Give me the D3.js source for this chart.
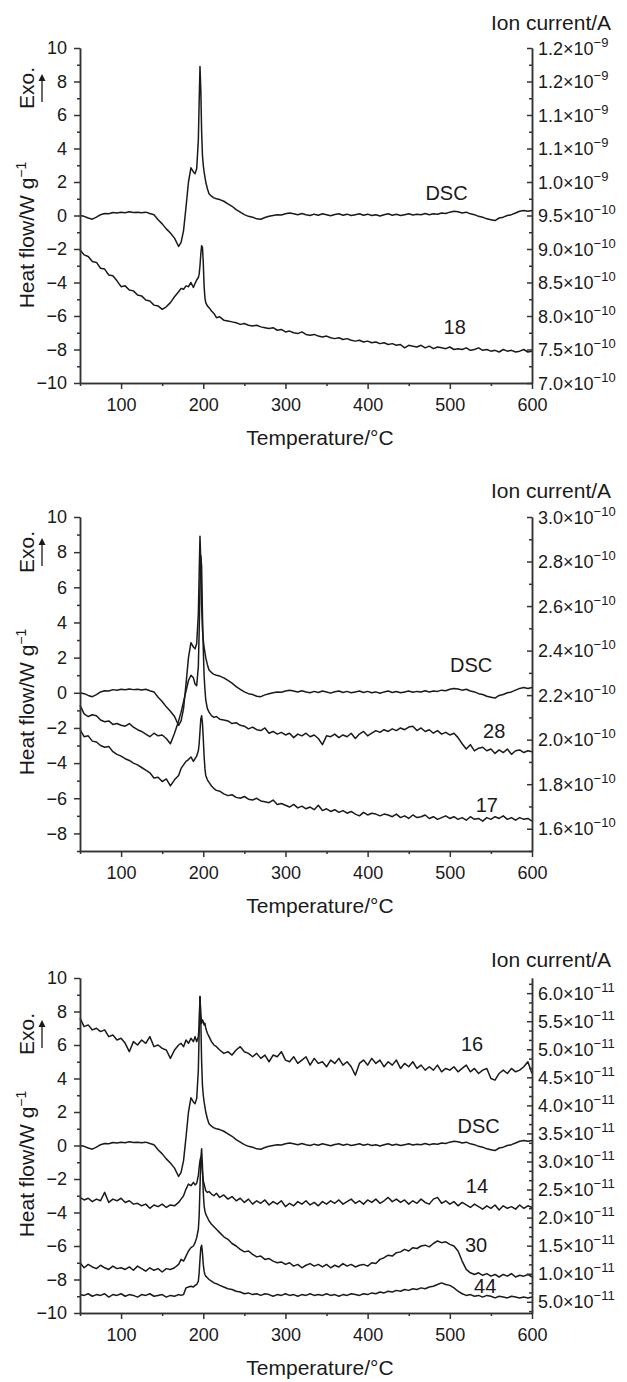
<!DOCTYPE html>
<html>
<head>
<meta charset="utf-8">
<script src="https://cdn.jsdelivr.net/npm/d3@7"></script>
<style>
  body { margin: 0; background: #fff; }
  svg text { font-family: "Liberation Sans", Arial, sans-serif; fill: #1a1a1a; }
  .curve { fill: none; stroke: #1a1a1a; stroke-width: 1.5; stroke-linejoin: round; }
  .axis path, .axis line { stroke: #333; stroke-width: 1.5; }
</style>
</head>
<body>
<svg id="chart" width="627" height="1382"></svg>
<script>

var temps = [
  50,55,60,65,70,75,80,85,90,95,100,105,110,115,120,125,130,135,140,145,150,155,160,165,170,
  173,176,179,182,185,188,190,192,194,195,196,197,198,199,200,201,202,203,205,207,210,213,216,
  220,225,230,235,240,245,250,255,260,265,270,275,280,285,290,295,300,
  305,310,315,320,325,330,335,340,345,350,355,360,365,370,375,380,385,390,395,400,
  405,410,415,420,425,430,435,440,445,450,455,460,465,470,475,480,485,490,495,500,
  505,510,515,520,525,530,535,540,545,550,555,560,565,570,575,580,585,590,595,600
];

// DSC heat flow (W/g), same curve in all three panels
var dsc = [
  0.0,-0.05,-0.15,-0.22,-0.1, 0.05,0.12,0.1,0.18,0.15, 0.2,0.17,0.22,0.18,0.2, 0.16,0.2,0.12,0.05,-0.25, -0.5,-0.8,-1.05,-1.35,-1.85,
  -1.6,-0.9,0.5,2.0,2.85,2.6,2.5,2.8,4.5,6.8,8.9,7.5,5.0,3.6,3.0,2.6,2.3,2.0,1.6,1.3,1.15,1.05,1.0,
  0.95,0.85,0.7,0.55,0.35,0.2,0.05,-0.05,-0.1,-0.2,-0.22,-0.12,-0.05,0.0,0.05,0.03,0.1,
  0.15,0.1,0.05,0.12,0.05,0.0,0.08,0.02,0.1,0.05,-0.02,0.06,0.1,0.02,0.08,0.0,0.05,0.1,0.02,0.08,
  0.0,0.05,-0.03,0.05,0.1,0.02,0.07,0.0,0.05,0.1,0.03,0.08,0.05,0.12,0.05,0.1,0.08,0.15,0.12,0.2,
  0.25,0.22,0.15,0.2,0.1,0.05,-0.05,-0.1,-0.2,-0.25,-0.3,-0.15,-0.1,0.0,0.05,0.15,0.25,0.3,0.25,0.3
];

// ion current traces, drawn on the heat-flow scale as in the figure
var ms18 = [
  -2.05,-2.35,-2.45,-2.75,-2.8, -3.15,-3.2,-3.55,-3.6,-3.9, -4.25,-4.2,-4.45,-4.5,-4.75, -4.8,-5.05,-5.1,-5.35,-5.4, -5.6,-5.45,-5.2,-4.85,-4.55,
  -4.35,-4.4,-4.2,-4.25,-4.0,-4.3,-4.05,-3.85,-3.7,-3.5,-3.0,-2.3,-1.8,-1.9,-2.8,-4.2,-4.9,-5.2,-5.4,-5.5,-5.7,-5.85,-6.1,
  -6.05,-6.25,-6.3,-6.35,-6.4,-6.5,-6.45,-6.55,-6.6,-6.55,-6.65,-6.7,-6.75,-6.7,-6.85,-6.8,-6.95,
  -6.9,-7.0,-7.05,-6.95,-7.1,-7.15,-7.1,-7.2,-7.25,-7.2,-7.3,-7.35,-7.3,-7.4,-7.35,-7.45,-7.5,-7.45,-7.55,-7.5,
  -7.6,-7.55,-7.65,-7.6,-7.7,-7.65,-7.75,-7.7,-7.9,-7.75,-7.8,-7.85,-7.75,-7.9,-7.8,-7.95,-7.85,-7.9,-7.95,-7.85,
  -8.0,-7.95,-8.0,-7.9,-8.05,-8.0,-7.9,-8.05,-8.0,-8.1,-8.05,-8.15,-8.0,-8.1,-8.05,-8.15,-8.1,-8.0,-8.15,-8.1
];

var ms28 = [
  -0.7,-1.2,-1.35,-1.25,-1.3, -1.55,-1.65,-1.6,-1.8,-1.75, -1.85,-1.9,-1.75,-1.95,-2.1, -2.2,-2.35,-2.5,-2.3,-2.45, -2.4,-2.6,-2.9,-2.3,-1.6,
  -1.1,-0.5,0.1,0.7,1.0,0.85,0.5,0.4,1.5,3.5,6.0,7.8,7.2,4.5,2.5,1.0,0.2,-0.4,-0.9,-1.1,-1.3,-1.4,-1.35,
  -1.5,-1.55,-1.6,-1.75,-1.7,-1.85,-1.9,-2.05,-1.95,-2.1,-2.15,-2.0,-2.3,-2.2,-2.35,-2.25,-2.4,
  -2.3,-2.55,-2.35,-2.45,-2.3,-2.5,-2.4,-2.6,-2.95,-2.45,-2.5,-2.35,-2.55,-2.4,-2.5,-2.3,-2.6,-2.35,-2.2,-2.45,
  -2.3,-2.15,-2.25,-2.1,-2.2,-2.05,-2.15,-2.0,-2.1,-1.95,-1.9,-2.15,-2.0,-2.2,-2.1,-2.3,-2.15,-2.35,-2.25,-2.4,
  -2.3,-2.55,-2.9,-3.2,-2.95,-3.3,-3.15,-3.1,-3.3,-3.2,-3.45,-3.25,-3.4,-3.2,-3.5,-3.3,-3.25,-3.4,-3.3,-3.35
];

var ms17 = [
  -2.1,-2.5,-2.45,-2.75,-2.8, -3.0,-3.1,-3.05,-3.35,-3.5, -3.6,-3.75,-3.85,-4.0,-4.1, -4.25,-4.4,-4.55,-4.85,-4.8, -5.05,-4.9,-5.3,-4.95,-4.7,
  -4.3,-4.1,-3.9,-3.8,-3.65,-3.9,-3.75,-3.6,-3.3,-2.9,-2.2,-1.5,-1.3,-1.7,-2.6,-3.6,-4.3,-4.7,-4.95,-5.1,-5.3,-5.45,-5.55,
  -5.6,-5.75,-5.85,-5.8,-5.95,-6.0,-5.9,-6.05,-6.1,-6.0,-6.15,-6.2,-6.25,-6.1,-6.35,-6.3,-6.4,
  -6.5,-6.35,-6.55,-6.45,-6.6,-6.5,-6.65,-6.4,-6.7,-6.6,-6.75,-6.65,-6.8,-6.7,-6.85,-6.75,-6.9,-7.0,-6.8,-6.95,
  -6.85,-6.9,-7.0,-6.9,-6.95,-7.05,-6.9,-7.1,-7.0,-7.15,-6.95,-7.1,-7.05,-6.95,-7.15,-7.05,-7.2,-7.1,-7.0,-7.15,
  -7.05,-7.2,-7.1,-7.25,-7.05,-7.2,-7.15,-7.3,-7.1,-7.2,-7.05,-7.15,-7.0,-7.2,-7.1,-7.25,-7.1,-7.2,-7.15,-7.3
];

var ms16 = [
  7.6,7.1,7.2,6.9,7.0, 6.8,6.9,6.5,6.6,6.3, 6.4,6.1,5.6,6.2,6.0, 6.3,6.1,6.5,5.9,6.0, 5.8,5.7,5.2,5.7,6.0,
  6.1,5.9,6.3,6.1,6.4,6.2,6.5,6.2,6.5,7.2,8.9,7.8,7.3,7.5,7.4,7.2,7.3,7.0,6.7,6.5,6.2,6.0,5.9,
  5.7,5.5,5.6,5.4,5.7,5.9,5.6,5.5,5.3,5.5,5.2,5.4,5.0,5.4,5.3,5.6,5.1,
  5.0,5.3,4.9,5.1,5.3,4.8,5.2,4.9,5.0,4.7,5.1,4.9,5.2,4.8,5.0,4.7,4.2,4.9,5.1,4.8,
  5.2,4.9,5.1,4.7,5.0,4.8,5.1,4.6,4.9,4.7,5.0,4.6,4.8,4.5,4.7,4.5,4.8,4.4,4.6,4.5,
  4.7,4.4,4.6,4.8,4.4,4.6,4.3,4.5,4.6,4.0,3.9,4.3,4.5,4.3,4.6,4.4,4.5,4.7,5.0,4.3
];

var ms14 = [
  -3.1,-3.25,-3.15,-3.35,-3.2, -3.3,-2.8,-3.4,-3.2,-3.3, -3.15,-3.4,-3.3,-3.5,-3.45, -3.6,-3.5,-3.75,-3.55,-3.65, -3.5,-3.7,-3.55,-3.6,-3.4,
  -3.2,-3.0,-2.6,-2.3,-2.4,-2.2,-2.35,-2.25,-1.8,-1.3,-0.9,-0.7,-1.0,-1.6,-2.1,-2.3,-2.5,-2.7,-2.8,-2.75,-2.9,-3.0,-2.85,
  -3.1,-2.95,-3.2,-3.05,-3.3,-3.15,-3.4,-3.2,-3.5,-3.3,-3.45,-3.25,-3.55,-3.35,-3.5,-3.3,-3.65,
  -3.45,-3.6,-3.35,-3.5,-3.3,-3.55,-3.4,-3.6,-3.35,-3.5,-3.3,-3.45,-3.25,-3.5,-3.35,-3.2,-3.45,-3.3,-3.5,-3.25,
  -3.4,-3.2,-3.45,-3.3,-3.1,-3.35,-3.2,-3.4,-3.25,-3.5,-3.3,-3.45,-3.2,-3.4,-3.5,-3.2,-3.1,-3.45,-3.3,-3.5,
  -3.35,-3.6,-3.4,-3.55,-3.7,-3.5,-3.65,-3.8,-3.6,-3.75,-3.55,-3.85,-3.6,-3.75,-3.65,-3.8,-3.55,-3.75,-3.6,-3.7
];

var ms30 = [
  -7.0,-7.3,-7.1,-7.25,-7.35, -7.15,-7.3,-7.4,-7.2,-7.35, -7.3,-7.4,-7.25,-7.45,-7.2, -7.35,-7.5,-7.3,-7.45,-7.35, -7.55,-7.35,-7.4,-7.3,-7.1,
  -6.8,-6.9,-6.6,-6.3,-6.1,-6.0,-5.8,-5.5,-5.0,-4.2,-2.5,-0.8,-0.2,-1.2,-2.8,-3.6,-3.9,-4.1,-4.3,-4.5,-4.7,-4.85,-5.0,
  -5.2,-5.45,-5.6,-5.85,-6.0,-6.2,-6.35,-6.3,-6.5,-6.65,-6.6,-6.8,-6.75,-6.9,-7.0,-6.95,-7.1,
  -7.0,-7.2,-7.1,-7.3,-7.15,-7.05,-7.2,-7.1,-7.25,-7.1,-7.3,-7.15,-7.25,-7.05,-7.2,-7.1,-7.25,-7.15,-7.1,-7.2,
  -7.0,-7.05,-6.8,-6.7,-6.55,-6.6,-6.4,-6.35,-6.2,-6.3,-6.1,-6.15,-6.0,-5.95,-6.05,-5.85,-5.7,-5.8,-5.75,-5.9,
  -6.0,-6.3,-6.9,-7.4,-7.6,-7.7,-7.6,-7.75,-7.65,-7.8,-7.7,-7.85,-7.7,-7.8,-7.65,-7.85,-7.75,-7.8,-7.7,-7.85
];

var ms44 = [
  -8.9,-8.95,-8.85,-9.0,-8.9, -8.95,-8.85,-9.05,-8.9,-8.95, -8.85,-9.0,-8.9,-8.95,-9.05, -8.9,-8.95,-8.85,-9.0,-8.95, -8.9,-9.05,-8.95,-9.0,-8.9,
  -8.95,-8.9,-8.5,-8.45,-8.4,-8.45,-8.35,-8.3,-8.1,-7.6,-6.8,-6.1,-5.95,-6.4,-7.1,-7.5,-7.7,-7.8,-7.9,-8.0,-8.1,-8.2,-8.25,
  -8.35,-8.45,-8.55,-8.6,-8.7,-8.75,-8.85,-8.8,-8.9,-8.85,-8.95,-8.85,-8.9,-9.0,-8.9,-8.95,-8.85,
  -8.95,-8.9,-9.0,-8.9,-8.95,-8.85,-8.95,-8.9,-8.95,-8.85,-8.95,-8.9,-9.0,-8.9,-8.95,-8.85,-8.9,-8.95,-8.85,-8.9,
  -8.8,-8.85,-8.75,-8.8,-8.7,-8.75,-8.65,-8.7,-8.6,-8.65,-8.55,-8.6,-8.5,-8.55,-8.45,-8.4,-8.3,-8.2,-8.3,-8.35,
  -8.5,-8.7,-8.85,-8.95,-8.9,-9.0,-8.95,-9.05,-8.95,-9.0,-9.1,-9.0,-9.05,-9.1,-9.0,-9.05,-9.1,-9.05,-9.1,-9.05
];

// right axis (ion current) ticks and their printed labels
var ion1Ticks = [7.0e-10, 7.5e-10, 8.0e-10, 8.5e-10, 9.0e-10, 9.5e-10, 1.0e-9, 1.05e-9, 1.1e-9, 1.15e-9, 1.2e-9];
var ion1Mant  = ["7.0","7.5","8.0","8.5","9.0","9.5","1.0","1.1","1.1","1.2","1.2"];
var ion1Exp   = ["−10","−10","−10","−10","−10","−10","−9","−9","−9","−9","−9"];

var ion2Ticks = [1.6e-10, 1.8e-10, 2.0e-10, 2.2e-10, 2.4e-10, 2.6e-10, 2.8e-10, 3.0e-10];
var ion2Mant  = ["1.6","1.8","2.0","2.2","2.4","2.6","2.8","3.0"];
var ion2Exp   = ["−10","−10","−10","−10","−10","−10","−10","−10"];

var ion3Ticks = [0.5e-11, 1.0e-11, 1.5e-11, 2.0e-11, 2.5e-11, 3.0e-11, 3.5e-11, 4.0e-11, 4.5e-11, 5.0e-11, 5.5e-11, 6.0e-11];
var ion3Mant  = ["5.0","1.0","1.5","2.0","2.5","3.0","3.5","4.0","4.5","5.0","5.5","6.0"];
var ion3Exp   = ["−11","−11","−11","−11","−11","−11","−11","−11","−11","−11","−11","−11"];

var tempTicks = [100, 200, 300, 400, 500, 600];

// panel layout
var panels = [
  { top: 48, bottom: 383, yDom: [-10, 10], yStart: -10,
    ionDom: [7.0e-10, 1.2e-9], ionTicks: ion1Ticks, ionMant: ion1Mant, ionExp: ion1Exp, ionMinor: 1,
    exoY: 88, heatY: 235, ionTitleY: 30,
    series: [ {data: dsc, label: "DSC", lt: 496, lv: 0.95},
              {data: ms18, label: "18", lt: 506, lv: -7.1} ] },
  { top: 517, bottom: 851, yDom: [-9, 10], yStart: -8,
    ionDom: [1.5e-10, 3.0e-10], ionTicks: ion2Ticks, ionMant: ion2Mant, ionExp: ion2Exp, ionMinor: 1,
    exoY: 552, heatY: 702, ionTitleY: 498,
    series: [ {data: dsc, label: "DSC", lt: 526, lv: 1.2},
              {data: ms28, label: "28", lt: 554, lv: -2.57},
              {data: ms17, label: "17", lt: 545, lv: -6.8} ] },
  { top: 978, bottom: 1313, yDom: [-10, 10], yStart: -10,
    ionDom: [0.30e-11, 6.27e-11], ionTicks: ion3Ticks, ionMant: ion3Mant, ionExp: ion3Exp, ionMinor: 2,
    exoY: 1034, heatY: 1164, ionTitleY: 967,
    series: [ {data: ms16, label: "16", lt: 527, lv: 5.64},
              {data: dsc, label: "DSC", lt: 535, lv: 0.75},
              {data: ms14, label: "14", lt: 533, lv: -2.83},
              {data: ms30, label: "30", lt: 532, lv: -6.36},
              {data: ms44, label: "44", lt: 543, lv: -8.8} ] }
];

var svg = d3.select("#chart");
var x = d3.scaleLinear().domain([50, 600]).range([80, 532]);
var fmt = d3.format("d");

panels.forEach(function(p) {
  var y = d3.scaleLinear().domain(p.yDom).range([p.bottom, p.top]);
  var yr = d3.scaleLinear().domain(p.ionDom).range([p.bottom, p.top]);
  var g = svg.append("g");

  // curves
  var line = d3.line()
      .x(function(d, i) { return x(temps[i]); })
      .y(function(d) { return y(d); });
  p.series.forEach(function(s) {
    g.append("path").datum(s.data).attr("class", "curve").attr("d", line);
    g.append("text")
      .attr("x", x(s.lt)).attr("y", y(s.lv))
      .attr("text-anchor", "middle")
      .style("font-size", "20px")
      .text(s.label);
  });

  // left axis
  var yMajor = d3.range(p.yStart, p.yDom[1] + 1, 2);
  var yMinor = d3.range(p.yStart + 1, p.yDom[1], 2);
  if (p.yDom[0] % 2 !== 0) yMinor.unshift(p.yDom[0]);
  g.append("g").attr("class", "axis")
    .attr("transform", "translate(80,0)")
    .call(d3.axisLeft(y).tickValues(yMinor).tickSize(3).tickSizeOuter(0).tickFormat(""));
  g.append("g").attr("class", "axis")
    .attr("transform", "translate(80,0)")
    .call(d3.axisLeft(y).tickValues(yMajor).tickSize(6).tickSizeOuter(0).tickPadding(7).tickFormat(fmt))
    .call(function(a) { a.selectAll("text").style("font-size", "18px").attr("fill", "#1a1a1a"); });

  // bottom axis
  g.append("g").attr("class", "axis")
    .attr("transform", "translate(0," + p.bottom + ")")
    .call(d3.axisBottom(x).tickValues([50, 150, 250, 350, 450, 550]).tickSize(3).tickSizeOuter(0).tickFormat(""));
  g.append("g").attr("class", "axis")
    .attr("transform", "translate(0," + p.bottom + ")")
    .call(d3.axisBottom(x).tickValues(tempTicks).tickSize(6).tickSizeOuter(0).tickPadding(9).tickFormat(fmt))
    .call(function(a) { a.selectAll("text").style("font-size", "18px").attr("fill", "#1a1a1a"); });

  // right axis, ticks pointing inward
  var step = p.ionTicks[1] - p.ionTicks[0];
  var rMinor = [];
  for (var k = -1; k < p.ionTicks.length; k++) {
    for (var j = 1; j <= p.ionMinor; j++) {
      var v = p.ionTicks[0] + step * (k + j / (p.ionMinor + 1));
      if (v >= p.ionDom[0] - 1e-20 && v <= p.ionDom[1] + 1e-20) rMinor.push(v);
    }
  }
  g.append("g").attr("class", "axis")
    .attr("transform", "translate(532,0)")
    .call(d3.axisRight(yr).tickValues(rMinor).tickSize(-3).tickSizeOuter(0).tickFormat(""));
  g.append("g").attr("class", "axis")
    .attr("transform", "translate(532,0)")
    .call(d3.axisRight(yr).tickValues(p.ionTicks).tickSize(-5).tickSizeOuter(0).tickFormat(""));

  var rl = g.selectAll(".ionlab").data(p.ionTicks).enter().append("text")
      .attr("class", "ionlab")
      .attr("x", 538)
      .attr("y", function(d) { return yr(d) + 6.5; })
      .style("font-size", "18px");
  rl.append("tspan").text(function(d, i) { return p.ionMant[i] + "×10"; });
  rl.append("tspan").attr("dy", -8).style("font-size", "13px").text(function(d, i) { return p.ionExp[i]; });

  // titles
  g.append("text")
    .attr("x", 551).attr("y", p.ionTitleY)
    .attr("text-anchor", "middle")
    .style("font-size", "21px")
    .text("Ion current/A");

  g.append("text")
    .attr("x", 320).attr("y", p.bottom + 62)
    .attr("text-anchor", "middle")
    .style("font-size", "21px")
    .text("Temperature/°C");

  var hf = g.append("text")
    .attr("transform", "translate(34," + p.heatY + ") rotate(-90)")
    .attr("text-anchor", "middle")
    .style("font-size", "21px");
  hf.append("tspan").text("Heat flow/W g");
  hf.append("tspan").attr("dy", -8).style("font-size", "14px").text("−1");

  g.append("text")
    .attr("transform", "translate(34," + p.exoY + ") rotate(-90)")
    .attr("text-anchor", "middle")
    .style("font-size", "21px")
    .text("Exo.");

  // exo arrow
  g.append("line")
    .attr("x1", 42).attr("x2", 42)
    .attr("y1", p.exoY + 14).attr("y2", p.exoY - 8)
    .attr("stroke", "#1a1a1a").attr("stroke-width", 1.3);
  g.append("path")
    .attr("d", "M38.5," + (p.exoY - 7) + " L42," + (p.exoY - 14) + " L45.5," + (p.exoY - 7) + " Z")
    .attr("fill", "#1a1a1a");
});

</script>
</body>
</html>
